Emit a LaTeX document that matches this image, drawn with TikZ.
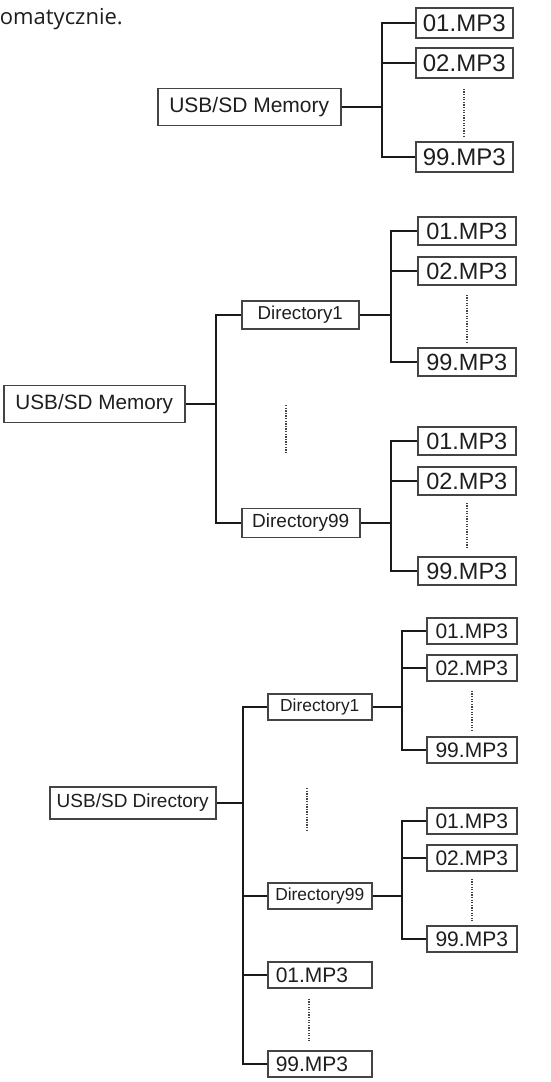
\documentclass[tikz,border=0pt]{standalone}
\usepackage{fontspec}
\setmainfont{Liberation Sans}
\newfontfamily\polfont{Open Sans}
\definecolor{linegray}{HTML}{1A1A1A}
\definecolor{boxgray}{HTML}{444444}
\definecolor{textgray}{HTML}{1E1E1E}

\begin{document}
\begin{tikzpicture}[x=1pt, y=-1pt,
    % Define the style for the boxes of the trees
    treebox/.style={draw=boxgray, line width=1.5pt, inner sep=0pt, anchor=west, text=textgray},
    % Define the style for the branches and the dotted gaps
    branch/.style={draw=linegray, line width=2.6pt},
    gapline/.style={draw=boxgray, line width=2pt, dash pattern=on 1.3pt off 1.3pt}
]
\useasboundingbox (0,0) rectangle (551,1082);

% Text cut off on the left
\node[anchor=east, inner sep=0pt, text=textgray, font=\polfont\fontsize{22}{22}\selectfont] (cut) at (123,19) {omatycznie.};

% ---------- first tree ----------
\node[treebox, minimum width=183pt, minimum height=37pt, font=\fontsize{21}{21}\selectfont] (mem1) at (157,107) {USB/SD Memory};
\node[treebox, minimum width=97pt, minimum height=30pt, font=\fontsize{24}{24}\selectfont] (a01) at (415,23) {01.MP3};
\node[treebox, minimum width=97pt, minimum height=30pt, font=\fontsize{24}{24}\selectfont] (a02) at (415,63) {02.MP3};
\node[treebox, minimum width=97pt, minimum height=30pt, font=\fontsize{24}{24}\selectfont] (a99) at (415,157) {99.MP3};
\coordinate (t1) at (382,0);

\draw[branch] (mem1.east) -- (mem1.east -| t1) |- (a01.west);
\draw[branch] (mem1.east -| t1) |- (a02.west);
\draw[branch] (mem1.east -| t1) |- (a99.west);
\draw[gapline] ([yshift=-10pt]a02.south) -- ([yshift=5pt]a99.north);

% ---------- second tree ----------
\node[treebox, minimum width=181pt, minimum height=37pt, font=\fontsize{20.7}{21}\selectfont] (mem2) at (3,404) {USB/SD Memory};
\node[treebox, minimum width=117pt, minimum height=28pt, font=\fontsize{18.7}{19}\selectfont] (d1) at (241,315) {Directory1};
\node[treebox, minimum width=118pt, minimum height=29pt, font=\fontsize{19}{19}\selectfont] (d99) at (241,523) {Directory99};
\coordinate (t2) at (216,0);
\coordinate (t3) at (391,0);

\node[treebox, minimum width=98pt, minimum height=28pt, font=\fontsize{23.5}{24}\selectfont] (b01) at (417,231) {01.MP3};
\node[treebox, minimum width=98pt, minimum height=28pt, font=\fontsize{23.5}{24}\selectfont] (b02) at (417,271) {02.MP3};
\node[treebox, minimum width=98pt, minimum height=28pt, font=\fontsize{23.5}{24}\selectfont] (b99) at (417,362) {99.MP3};
\node[treebox, minimum width=98pt, minimum height=28pt, font=\fontsize{23.5}{24}\selectfont] (c01) at (417,441) {01.MP3};
\node[treebox, minimum width=98pt, minimum height=28pt, font=\fontsize{23.5}{24}\selectfont] (c02) at (417,481) {02.MP3};
\node[treebox, minimum width=98pt, minimum height=28pt, font=\fontsize{23.5}{24}\selectfont] (c99) at (417,571) {99.MP3};

\draw[branch] (mem2.east) -- (mem2.east -| t2) |- (d1.west);
\draw[branch] (mem2.east -| t2) |- (d99.west);
\draw[branch] (d1.east) -- (d1.east -| t3) |- (b01.west);
\draw[branch] (d1.east -| t3) |- (b02.west);
\draw[branch] (d1.east -| t3) |- (b99.west);
\draw[branch] (d99.east) -- (d99.east -| t3) |- (c01.west);
\draw[branch] (d99.east -| t3) |- (c02.west);
\draw[branch] (d99.east -| t3) |- (c99.west);

\draw[gapline] ([yshift=-9pt]b02.south) -- ([yshift=5pt]b99.north);
\draw[gapline] ([yshift=-7pt]c02.south) -- ([yshift=9pt]c99.north);
\draw[gapline] (286,405) -- (286,452);

% ---------- third tree ----------
\node[treebox, minimum width=166pt, minimum height=32pt, font=\fontsize{19}{19}\selectfont] (dirr) at (49,803) {USB/SD Directory};
\node[treebox, minimum width=104pt, minimum height=26pt, font=\fontsize{17.4}{18}\selectfont] (e1) at (267,707) {Directory1};
\node[treebox, minimum width=104pt, minimum height=26pt, font=\fontsize{17.4}{18}\selectfont] (e99) at (267,896) {Directory99};
\node[treebox, minimum width=104pt, minimum height=26pt, text width=88pt, align=left, font=\fontsize{21}{21}\selectfont] (h01) at (267,975) {01.MP3};
\node[treebox, minimum width=104pt, minimum height=26pt, text width=88pt, align=left, font=\fontsize{21}{21}\selectfont] (h99) at (267,1064) {99.MP3};
\coordinate (t4) at (243,0);
\coordinate (t5) at (402,0);

\node[treebox, minimum width=90pt, minimum height=26pt, font=\fontsize{21}{21}\selectfont] (f01) at (426,631) {01.MP3};
\node[treebox, minimum width=90pt, minimum height=26pt, font=\fontsize{21}{21}\selectfont] (f02) at (426,668) {02.MP3};
\node[treebox, minimum width=90pt, minimum height=26pt, font=\fontsize{21}{21}\selectfont] (f99) at (426,750) {99.MP3};
\node[treebox, minimum width=90pt, minimum height=26pt, font=\fontsize{21}{21}\selectfont] (g01) at (426,821) {01.MP3};
\node[treebox, minimum width=90pt, minimum height=26pt, font=\fontsize{21}{21}\selectfont] (g02) at (426,858) {02.MP3};
\node[treebox, minimum width=90pt, minimum height=26pt, font=\fontsize{21}{21}\selectfont] (g99) at (426,939) {99.MP3};

\draw[branch] (dirr.east) -- (dirr.east -| t4) |- (e1.west);
\draw[branch] (dirr.east -| t4) |- (e99.west);
\draw[branch] (dirr.east -| t4) |- (h01.west);
\draw[branch] (dirr.east -| t4) |- (h99.west);
\draw[branch] (e1.east) -- (e1.east -| t5) |- (f01.west);
\draw[branch] (e1.east -| t5) |- (f02.west);
\draw[branch] (e1.east -| t5) |- (f99.west);
\draw[branch] (e99.east) -- (e99.east -| t5) |- (g01.west);
\draw[branch] (e99.east -| t5) |- (g02.west);
\draw[branch] (e99.east -| t5) |- (g99.west);

\draw[gapline] ([yshift=-9pt]f02.south) -- ([yshift=4pt]f99.north);
\draw[gapline] ([yshift=-7pt]g02.south) -- ([yshift=4pt]g99.north);
\draw[gapline] (307,788) -- (307,831);
\draw[gapline] ([xshift=-11pt,yshift=-10pt]h01.south) -- ([xshift=-11pt,yshift=9pt]h99.north);

\end{tikzpicture}
\end{document}
